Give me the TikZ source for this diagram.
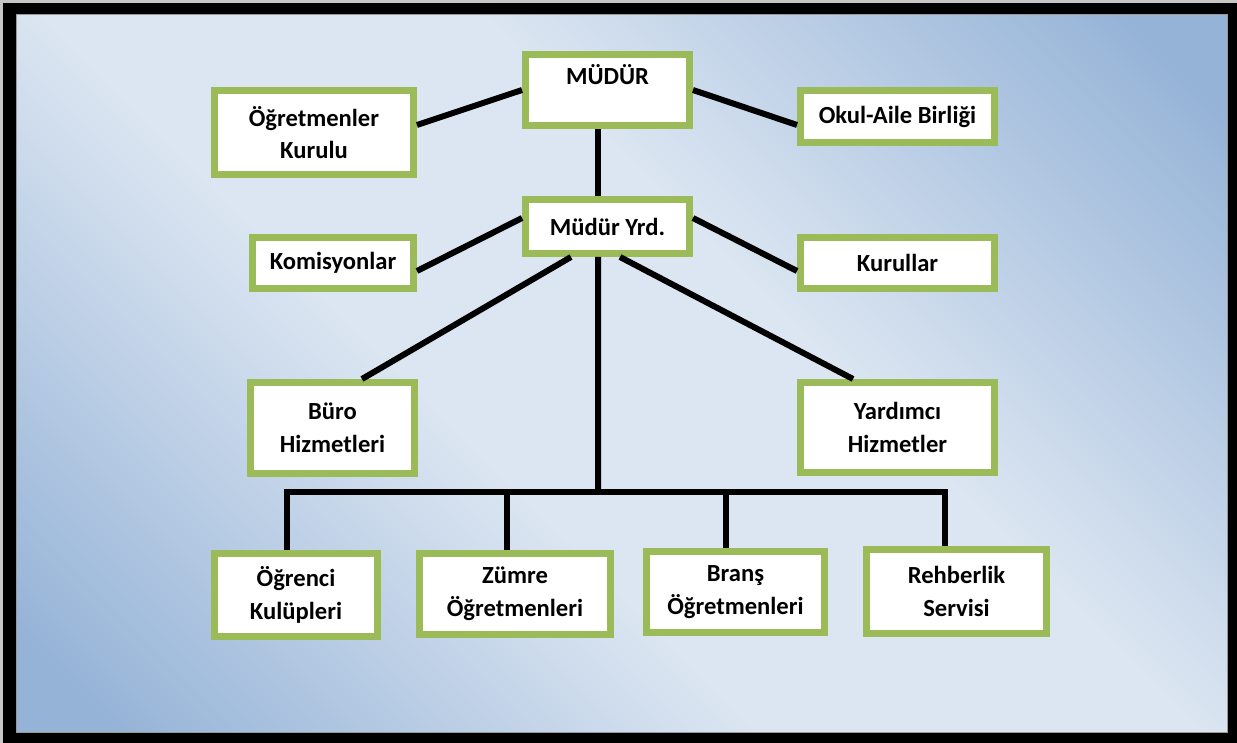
\documentclass[tikz,border=0pt]{standalone}
\usepackage{fontspec}
\setmainfont{Carlito}
\usepackage{tikz}
\usetikzlibrary{calc}
\definecolor{boxgreen}{RGB}{155,187,89}
\definecolor{bgdark}{RGB}{149,179,215}
\definecolor{bglight}{RGB}{220,230,242}
\pgfdeclareverticalshading{bgshade}{100bp}{color(0bp)=(bgdark); color(18bp)=(bgdark); color(42bp)=(bglight); color(58bp)=(bglight); color(82bp)=(bgdark); color(100bp)=(bgdark)}

\begin{document}
\begin{tikzpicture}[x=0.02cm, y=-0.02cm]
    \tikzset{
        orgbox/.style={
                draw=boxgreen, line width=0.14cm, fill=white, inner sep=0pt,
                align=center, font=\fontsize{14}{18.5}\selectfont\bfseries
            },
        link/.style={line width=0.12cm, black}
    }
    \useasboundingbox (0,0) rectangle (1237,743);

    % --- Rahmen und Hintergrund ---
    \fill[gray!45] (0,0) rectangle (1237,743);
    \fill[black] (3,3) rectangle (1237,743);
    \shade[shading=bgshade, shading angle=-45,
        draw=gray!80, line width=0.02cm] (16,15) rectangle (1227,732);

    % --- Kästen ---
    \node[orgbox, minimum width=3.28cm, minimum height=1.42cm, text height=0.35cm, text depth=0.55cm] (mudur) at (607.5, 90) {MÜDÜR};
    \node[orgbox, minimum width=3.28cm, minimum height=1.08cm] (yrd) at (607.5, 226.5) {Müdür Yrd.};
    \node[orgbox, minimum width=3.98cm, minimum height=1.68cm] (ogrkurul) at (314, 132.5) {Öğretmenler\\Kurulu};
    \node[orgbox, minimum width=3.88cm, minimum height=1.04cm] (okulaile) at (897.5, 116.5) {Okul-Aile Birliği};
    \node[orgbox, minimum width=3.22cm, minimum height=1.02cm] (komisyon) at (333, 263) {Komisyonlar};
    \node[orgbox, minimum width=3.88cm, minimum height=1.02cm] (kurullar) at (897.5, 263) {Kurullar};
    \node[orgbox, minimum width=3.28cm, minimum height=1.82cm] (buro) at (332.5, 428) {Büro\\Hizmetleri};
    \node[orgbox, minimum width=3.88cm, minimum height=1.80cm] (yardimci) at (897.5, 427.5) {Yardımcı\\Hizmetler};
    \node[orgbox, minimum width=3.26cm, minimum height=1.66cm] (kulup) at (296, 595) {Öğrenci\\Kulüpleri};
    \node[orgbox, minimum width=3.82cm, minimum height=1.62cm] (zumre) at (515, 594) {Zümre\\Öğretmenleri};
    \node[orgbox, minimum width=3.56cm, minimum height=1.62cm] (brans) at (735.5, 592) {Branş\\Öğretmenleri};
    \node[orgbox, minimum width=3.60cm, minimum height=1.68cm] (rehber) at (956.5, 591.5) {Rehberlik\\Servisi};

    % --- Verbindungen ---
    \draw[link] (mudur.west) -- ([yshift=0.15cm]ogrkurul.east);
    \draw[link] (mudur.east) -- ([yshift=-0.17cm]okulaile.west);
    \draw[link] (mudur.south) ++(-0.19cm,0) coordinate (mtop) -- (mtop |- yrd.north);
    \draw[link] ([yshift=0.17cm]yrd.west) -- ([yshift=-0.16cm]komisyon.east);
    \draw[link] ([yshift=0.17cm]yrd.east) -- ([yshift=-0.16cm]kurullar.west);
    \draw[link] ([xshift=-0.73cm]yrd.south) -- ([xshift=0.59cm]buro.north);
    \draw[link] ([xshift=0.25cm]yrd.south) -- ([xshift=-0.89cm]yardimci.north);

    % Sammelschiene nach unten
    \coordinate (bus) at (598, 492);
    \draw[link] ([xshift=-0.19cm]yrd.south) -- (bus);
    \draw[link] ([xshift=-0.18cm]kulup.north) |- (bus) -| ([xshift=-0.23cm]rehber.north);
    \foreach \n/\s in {zumre/-0.16, brans/-0.19}
        \draw[link] ([xshift=\s cm]\n.north) -- ([xshift=\s cm]\n.north |- bus);
\end{tikzpicture}
\end{document}
